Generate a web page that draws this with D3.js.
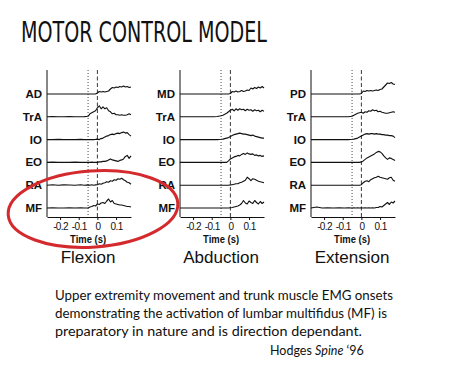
<!DOCTYPE html>
<html><head><meta charset="utf-8">
<script src="https://cdn.jsdelivr.net/npm/d3@7/dist/d3.min.js"></script>
<style>
html,body{margin:0;padding:0;background:#fff;}
svg{display:block;}
</style></head>
<body>
<svg id="c" width="463" height="381"></svg>
<script>
// ---- data ----
const times = [-0.27,-0.24,-0.21,-0.18,-0.15,-0.12,-0.09,-0.07,
  -0.05,-0.04,-0.03,-0.02,-0.01,
  0,0.01,0.02,0.03,0.04,0.05,0.06,0.07,0.08,0.09,0.10,0.11,0.12,0.13,0.14,0.15,0.16,0.17,0.18];

const panelTitles = ["Flexion","Abduction","Extension"];
const flexionMuscles = ["AD","TrA","IO","EO","RA","MF"];
const abductionMuscles = ["MD","TrA","IO","EO","RA","MF"];
const extensionMuscles = ["PD","TrA","IO","EO","RA","MF"];
const xTicks = [-0.2,-0.1,0,0.1];
const xTickLabels = ["-0.2","-0.1","0","0.1"];
const dottedOnset = -0.05;
const dashedOnset = 0;

const flexionTraces = [
  [0,0,0,0,0,0,0,0, 0,0,0,0,0, 1,2.5,2,2.5,2,2.5,3,5,6.5,6,7,6.5,7.5,7,8,7,7.5,6.5,7],
  [0,0.2,0,0,0.2,0,0,0.2, 0.5,3,4,5,6, 9,11,8,10,8,9,6,5,3,3.5,2,2,1.5,2,1.5,1.5,2,3,2],
  [0,0,0.2,0,0,0,0.2,0, 0,0,0,0,0.2, 0.5,0,1,1.5,2.5,3.5,4,5,5.5,5,6,6.5,6,7,7.5,6.5,7,5,3.5],
  [0,0.3,0,0.2,0,0.3,0,0, 0.2,0,0.3,0,0, 0,0.5,0.5,1,1,1.5,2.5,3.5,2.5,2,1.5,1,2,2.5,3.5,6,7,4,6.5],
  [0,0.4,0,0.3,0.2,0,0.4,0, 0.3,0,0.4,0,0.3, 0.5,1.5,1,2,2.5,3.5,3,4.5,4,5.5,5,6.5,6,7,5.5,4.5,3,2.5,1],
  [0,0.2,0,0,0.3,0,0.2,0, 0,1,1.5,2.5,2, 4,3.5,5,5.5,4.5,7,9,6,7.5,4.5,4,3.5,3,3,2.5,2,1.5,1.5,1]
];
const abductionTraces = [
  [0,0,0,0,0,0,0,0, 0,0,0,0,0, 0.5,2.5,2,3,2,2.5,3.5,2.5,3,4,3.5,6,5,6.5,5.5,7,6,7.5,6],
  [0,0,0,0,0,0,0,0.3, 1,1.5,2.5,3.5,5, 6.5,7.5,6,8,6.5,8,7,7.5,6,7.5,6.5,7,5.5,7,6,6.5,5,6.5,5.5],
  [0,0,0,0,0,0,0,0, 0.3,0.5,1,1.5,2, 3,4,5,5.5,6,6.5,6,5.5,5.5,5,4.5,4,4.5,3.5,3,2.5,2,1.5,1.5],
  [0,0,0,0,0,0,0,0, 0,0,0,0,1.5, 3.5,4.5,5.5,6,7,6.5,8,9,8,9.5,8.5,8,8.5,7,7.5,6.5,7,6,6.5],
  [0,0,0,0,0,0,0,0, 0,0,0,0,0, 0.3,0.5,1,1.5,1.5,2.5,3,4,5,8,6.5,4.5,6.5,6,5,4,3.5,3,2.5],
  [0,0,0,0,0,0,0,0, 0,0,0,0,0, 0.3,0.5,1,1.5,2,3,4.5,7.5,5,4,7,5.5,4.5,7.5,5.5,4,6.5,4.5,6]
];
const extensionTraces = [
  [0,0,0,0,0,0,0,0, 0,0,0,0,0, 0.5,3,2.5,3.5,3,3.5,3,3.5,4,3.5,4.5,5,7,9,11,10.5,11.5,10,9.5],
  [0,0,0,0,0,0,0,0, 0.5,1.5,2.5,3.5,4, 4.5,3.5,5,4.5,6,5.5,7,6,6.5,5,5.5,4.5,4,3.5,3.5,4,4.5,5,4.5],
  [0,0,0,0,0,0,0,0, 0.3,0.5,1,1.5,2.5, 3.5,4.5,5.5,6,5.5,6,6,5.5,6,5.5,5.5,5,5,4.5,4.5,4,4,3.5,2],
  [0,0,0,0,0,0,0,0, 0,0,0,0,0, 0.5,1.5,3,4.5,5.5,6.5,7.5,8.5,10,11,10.5,9,6.5,4.5,3,4.5,4,3,2],
  [0,0,0,0,0,0,0,0, 0,0,0,0,0, 0.5,2.5,4,4.5,3.5,5.5,6.5,7.5,8,9,8,7.5,7,6.5,6,7.5,8,5,4],
  [0,1,0,0.3,0,0.3,0,0.2, 0,0.3,0,0.2,0, 0.2,0,0.3,0,0.2,0,0.3,0,0.5,0.5,1.5,1,2.5,4,5.5,3.5,6,5,7]
];

const titleText = "MOTOR CONTROL MODEL";
const captionLines = [
  "Upper extremity movement and trunk muscle EMG onsets",
  "demonstrating the activation of lumbar multifidus (MF) is",
  "preparatory in nature and is direction dependant."
];

// ---- drawing ----
const svg = d3.select("#c");
svg.append("rect").attr("width",463).attr("height",381).attr("fill","#fff");

svg.append("text").attr("x",21).attr("y",42)
  .attr("font-family","'DejaVu Sans Condensed','Liberation Sans Narrow',sans-serif")
  .attr("font-size",28).attr("fill","#111")
  .attr("textLength",246).attr("lengthAdjust","spacingAndGlyphs")
  .text(titleText);

const panels = [
  {title:panelTitles[0], muscles:flexionMuscles, traces:flexionTraces, x0:47},
  {title:panelTitles[1], muscles:abductionMuscles, traces:abductionTraces, x0:180},
  {title:panelTitles[2], muscles:extensionMuscles, traces:extensionTraces, x0:311}
];

const axisTop = 70, axisBottom = 217;
const amp = d3.scaleLinear().domain([0,10]).range([0,-10]);

panels.forEach(p => {
  const g = svg.append("g");
  const x = d3.scaleLinear().domain([-0.27,0.18]).range([p.x0, p.x0+84]);
  const y = d3.scalePoint().domain(p.muscles).range([94,208]);

  g.append("line").attr("x1",x(dottedOnset)).attr("x2",x(dottedOnset))
    .attr("y1",axisTop).attr("y2",axisBottom)
    .attr("stroke","#333").attr("stroke-width",0.9).attr("stroke-dasharray","1,2");
  g.append("line").attr("x1",x(dashedOnset)).attr("x2",x(dashedOnset))
    .attr("y1",axisTop).attr("y2",axisBottom)
    .attr("stroke","#222").attr("stroke-width",0.9).attr("stroke-dasharray","4,2.5");

  g.append("line").attr("x1",p.x0).attr("x2",p.x0).attr("y1",axisTop).attr("y2",axisBottom)
    .attr("stroke","#111").attr("stroke-width",1);

  const ax = d3.axisBottom(x).tickValues(xTicks).tickFormat((d,i)=>xTickLabels[i]).tickSize(3).tickSizeOuter(0);
  const axg = g.append("g").attr("transform",`translate(0,${axisBottom})`).call(ax);
  axg.select(".domain").attr("stroke","#111");
  axg.selectAll(".tick line").attr("stroke","#111");
  axg.selectAll(".tick text").attr("font-family","'Liberation Sans',Arial,sans-serif")
    .attr("font-size",10).attr("letter-spacing","-0.6px").attr("fill","#111").attr("dy","0.85em").attr("y",4);

  g.append("text").attr("x",x(-0.05)).attr("y",243).attr("text-anchor","middle")
    .attr("font-family","'Liberation Sans',Arial,sans-serif").attr("font-weight","bold")
    .attr("font-size",11).attr("fill","#111").attr("textLength",36).attr("lengthAdjust","spacingAndGlyphs")
    .text("Time (s)");

  g.append("text").attr("x",x(-0.05)).attr("y",263).attr("text-anchor","middle")
    .attr("font-family","'Liberation Sans',Arial,sans-serif")
    .attr("font-size",17).attr("fill","#111").text(p.title);

  const line = d3.line().x(d=>x(d[0])).y(d=>d[1]);
  p.muscles.forEach((m,i) => {
    const base = y(m);
    const pts = times.map((t,j)=>[t, base + amp(p.traces[i][j])]);
    g.append("path").attr("d",line(pts)).attr("fill","none")
      .attr("stroke","#111").attr("stroke-width",1.1).attr("stroke-linejoin","round");
    g.append("text").attr("x",p.x0-5).attr("y",base+4).attr("text-anchor","end")
      .attr("font-family","'Liberation Sans',Arial,sans-serif").attr("font-weight","bold")
      .attr("font-size",11.5).attr("fill","#111").text(m);
  });
});

svg.append("ellipse").attr("cx",93).attr("cy",209).attr("rx",85).attr("ry",38)
  .attr("transform","rotate(-4,93,209)")
  .attr("fill","none").attr("stroke","#d42a2e").attr("stroke-width",3);

const cap = svg.append("g").attr("font-family","'Lato','Noto Sans',sans-serif").attr("fill","#111");
const capWidths = [338,332,307];
captionLines.forEach((s,i)=>{
  cap.append("text").attr("x",55).attr("y",300+i*18).attr("font-size",12.5)
    .attr("textLength",capWidths[i]).attr("lengthAdjust","spacingAndGlyphs").text(s);
});
const h = cap.append("text").attr("x",270).attr("y",355).attr("font-size",12.5);
h.append("tspan").text("Hodges ");
h.append("tspan").attr("font-style","italic").text("Spine");
h.append("tspan").text(" \u201896");
</script>
</body></html>
